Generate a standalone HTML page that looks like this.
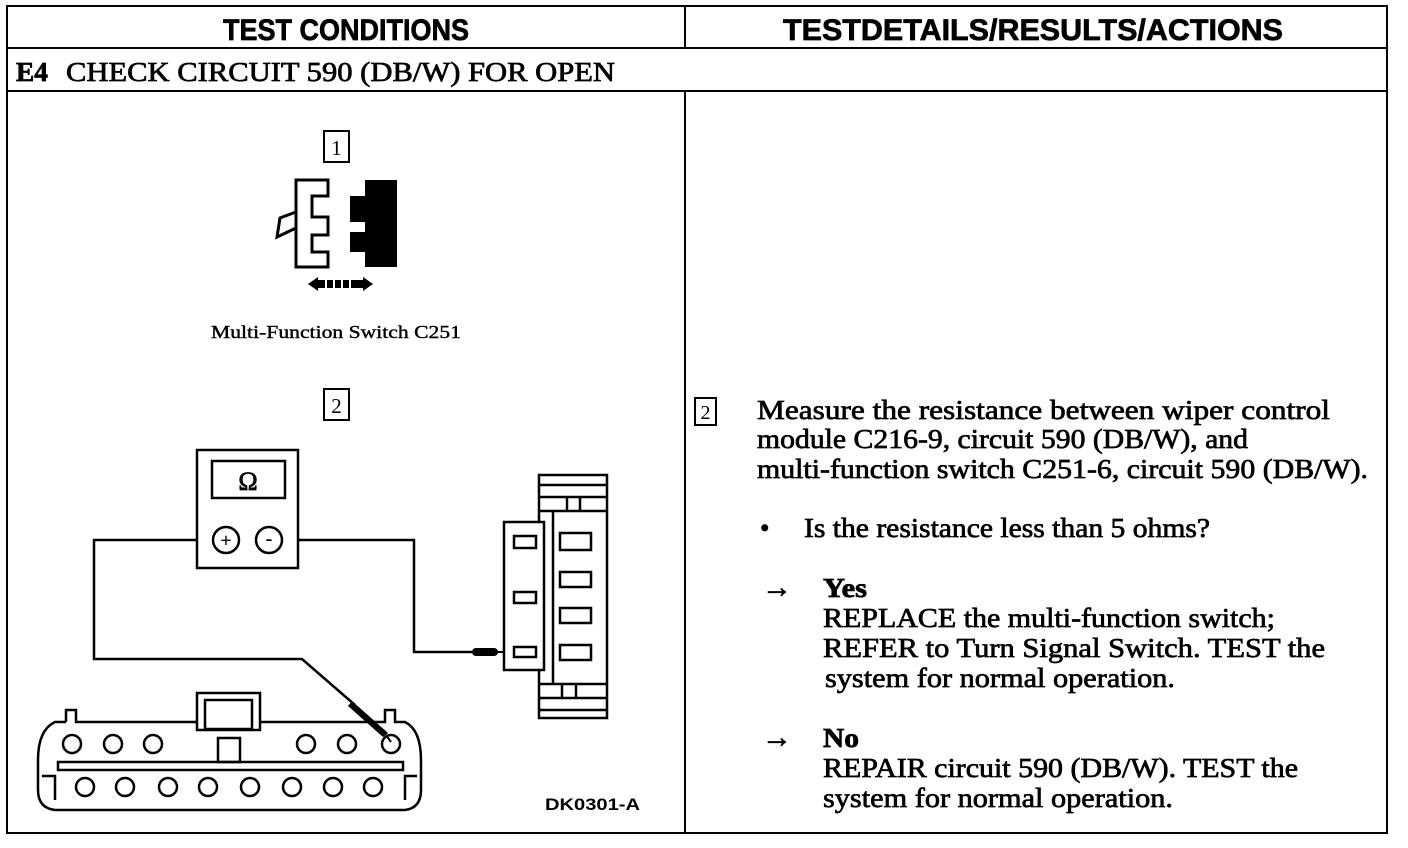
<!DOCTYPE html>
<html><head><meta charset="utf-8"><style>
html,body{margin:0;padding:0;background:#fff;}
svg{display:block;}
text{font-family:"Liberation Serif",serif;fill:#000;}
.h{font-family:"Liberation Sans",sans-serif;font-weight:bold;}
.b{stroke:#000;stroke-width:0.7;}
</style></head><body>
<svg width="1408" height="848" viewBox="0 0 1408 848" xmlns="http://www.w3.org/2000/svg">
<g stroke="#000" fill="none" stroke-width="2">
<rect x="7" y="6" width="1380" height="827"/>
<line x1="7" y1="48" x2="1387" y2="48"/>
<line x1="7" y1="91" x2="1387" y2="91"/>
<line x1="685" y1="6" x2="685" y2="48"/>
<line x1="685" y1="91" x2="685" y2="833"/>
</g>
<text class="h b" x="346" y="40" font-size="30" text-anchor="middle" textLength="246" lengthAdjust="spacingAndGlyphs">TEST CONDITIONS</text>
<text class="h b" x="1033" y="40" font-size="30" text-anchor="middle" textLength="500" lengthAdjust="spacingAndGlyphs">TESTDETAILS/RESULTS/ACTIONS</text>
<text class="b" x="16" y="81" font-size="27" font-weight="bold" textLength="32" lengthAdjust="spacingAndGlyphs">E4</text>
<text class="b" x="66" y="81" font-size="27" textLength="549" lengthAdjust="spacingAndGlyphs">CHECK CIRCUIT 590 (DB/W) FOR OPEN</text>

<rect x="324" y="131" width="25" height="31" fill="none" stroke="#000" stroke-width="2"/>
<text x="336.5" y="155" font-size="21" text-anchor="middle">1</text>
<path d="M296,180 H328 V196 H312 V217 H328 V235 H312 V252 H328 V267 H296 Z" fill="#fff" stroke="#000" stroke-width="3"/>
<path d="M296,212 L280,218 L277,237 L296,228" fill="none" stroke="#000" stroke-width="3"/>
<path d="M365,180 H397 V267 H365 V252 H350 V232 H365 V222 H350 V196 H365 Z" fill="#000"/>
<path d="M308,284 L318,277 L318,291 Z M373,284 L363,277 L363,291 Z" fill="#000"/>
<rect x="318" y="280" width="45" height="8" fill="#000"/>
<g stroke="#fff" stroke-width="2"><line x1="326" y1="280" x2="326" y2="288"/><line x1="334" y1="280" x2="334" y2="288"/><line x1="342" y1="280" x2="342" y2="288"/><line x1="350" y1="280" x2="350" y2="288"/></g>
<text class="b" x="336" y="338" font-size="18" text-anchor="middle" textLength="250" lengthAdjust="spacingAndGlyphs" style="stroke-width:0.4">Multi-Function Switch C251</text>

<rect x="324" y="389" width="25" height="31" fill="none" stroke="#000" stroke-width="2"/>
<text x="336.5" y="413" font-size="21" text-anchor="middle">2</text>

<g stroke="#000" stroke-width="2.5" fill="none">
<rect x="197" y="450" width="101" height="118"/>
<rect x="212" y="461" width="73" height="37"/>
<circle cx="226" cy="540" r="13"/>
<circle cx="269" cy="540" r="13"/>
<polyline points="197,540 94,540 94,659 302,659 355,705"/>
<polyline points="298,540 414,540 414,652 472,652"/>
</g>
<text x="248" y="490" font-size="26" text-anchor="middle" class="b">Ω</text>
<text x="226" y="547" font-size="20" text-anchor="middle" font-weight="bold">+</text>
<text x="269" y="545" font-size="20" text-anchor="middle" font-weight="bold">-</text>
<path d="M352,701 L388,733 L383,737 L348,706 Z" fill="#000"/>
<line x1="386" y1="735" x2="391" y2="742" stroke="#000" stroke-width="2"/>
<rect x="472" y="648" width="26" height="8" rx="4" fill="#000"/>
<line x1="498" y1="652" x2="514" y2="652" stroke="#000" stroke-width="2"/>

<g stroke="#000" stroke-width="2.5" fill="none">
<rect x="539" y="475" width="68" height="243"/>
<line x1="539" y1="485" x2="607" y2="485"/>
<line x1="539" y1="497" x2="607" y2="497"/>
<line x1="539" y1="511" x2="607" y2="511"/>
<line x1="567" y1="497" x2="567" y2="511"/>
<line x1="580" y1="497" x2="580" y2="511"/>
<line x1="539" y1="684" x2="607" y2="684"/>
<line x1="539" y1="698" x2="607" y2="698"/>
<line x1="539" y1="710" x2="607" y2="710"/>
<line x1="562" y1="684" x2="562" y2="698"/>
<line x1="576" y1="684" x2="576" y2="698"/>
<line x1="553" y1="511" x2="553" y2="684"/>
<rect x="504" y="522" width="40" height="148" fill="#fff"/>
<rect x="514" y="536" width="22" height="12"/>
<rect x="514" y="592" width="22" height="11"/>
<rect x="514" y="647" width="22" height="10"/>
<rect x="560" y="533" width="31" height="17"/>
<rect x="560" y="572" width="31" height="15"/>
<rect x="560" y="608" width="31" height="15"/>
<rect x="560" y="645" width="31" height="15"/>
</g>

<g stroke="#000" stroke-width="2.5" fill="none">
<path d="M66,722 V710 H76 V722 H197 M260,722 H385 V710 H395 V722 H405 Q421,730 421,760 V790 Q421,808 405,810 H55 Q38,808 38,790 V760 Q38,730 55,722 H66"/>
<rect x="197" y="693" width="63" height="37" fill="#fff"/>
<rect x="205" y="700" width="47" height="29"/>
<rect x="218" y="738" width="22" height="24"/>
<rect x="58" y="762" width="345" height="8"/>
<path d="M42,776 H55 V800 M417,776 H405 V800"/>
<ellipse cx="72" cy="744" rx="9" ry="9"/>
<ellipse cx="113" cy="744" rx="9" ry="9"/>
<ellipse cx="153" cy="744" rx="9" ry="9"/>
<ellipse cx="306" cy="744" rx="9" ry="9"/>
<ellipse cx="347" cy="744" rx="9" ry="9"/>
<ellipse cx="391" cy="744" rx="9" ry="9"/>
<ellipse cx="85" cy="787" rx="9" ry="9"/>
<ellipse cx="125" cy="787" rx="9" ry="9"/>
<ellipse cx="168" cy="787" rx="9" ry="9"/>
<ellipse cx="208" cy="787" rx="9" ry="9"/>
<ellipse cx="250" cy="787" rx="9" ry="9"/>
<ellipse cx="292" cy="787" rx="9" ry="9"/>
<ellipse cx="333" cy="787" rx="9" ry="9"/>
<ellipse cx="373" cy="787" rx="9" ry="9"/>
</g>
<text class="h" x="640" y="810" font-size="17" text-anchor="end" textLength="95" lengthAdjust="spacingAndGlyphs">DK0301-A</text>

<rect x="695" y="398" width="21" height="27" fill="none" stroke="#000" stroke-width="2"/>
<text x="705.5" y="419" font-size="20" text-anchor="middle">2</text>
<g font-size="27" class="b">
<text x="757" y="419" textLength="573" lengthAdjust="spacingAndGlyphs">Measure the resistance between wiper control</text>
<text x="757" y="448" textLength="491" lengthAdjust="spacingAndGlyphs">module C216-9, circuit 590 (DB/W), and</text>
<text x="757" y="478" textLength="611" lengthAdjust="spacingAndGlyphs">multi-function switch C251-6, circuit 590 (DB/W).</text>
<text x="760" y="537">•</text>
<text x="804" y="537" textLength="406" lengthAdjust="spacingAndGlyphs">Is the resistance less than 5 ohms?</text>
<text x="762" y="597" font-size="30">→</text>
<text x="823" y="597" font-weight="bold" textLength="44" lengthAdjust="spacingAndGlyphs">Yes</text>
<text x="823" y="627" textLength="452" lengthAdjust="spacingAndGlyphs">REPLACE the multi-function switch;</text>
<text x="823" y="657" textLength="502" lengthAdjust="spacingAndGlyphs">REFER to Turn Signal Switch. TEST the</text>
<text x="825" y="687" textLength="350" lengthAdjust="spacingAndGlyphs">system for normal operation.</text>
<text x="762" y="747" font-size="30">→</text>
<text x="823" y="747" font-weight="bold" textLength="36" lengthAdjust="spacingAndGlyphs">No</text>
<text x="823" y="777" textLength="475" lengthAdjust="spacingAndGlyphs">REPAIR circuit 590 (DB/W). TEST the</text>
<text x="823" y="807" textLength="350" lengthAdjust="spacingAndGlyphs">system for normal operation.</text>
</g>
</svg>
</body></html>
